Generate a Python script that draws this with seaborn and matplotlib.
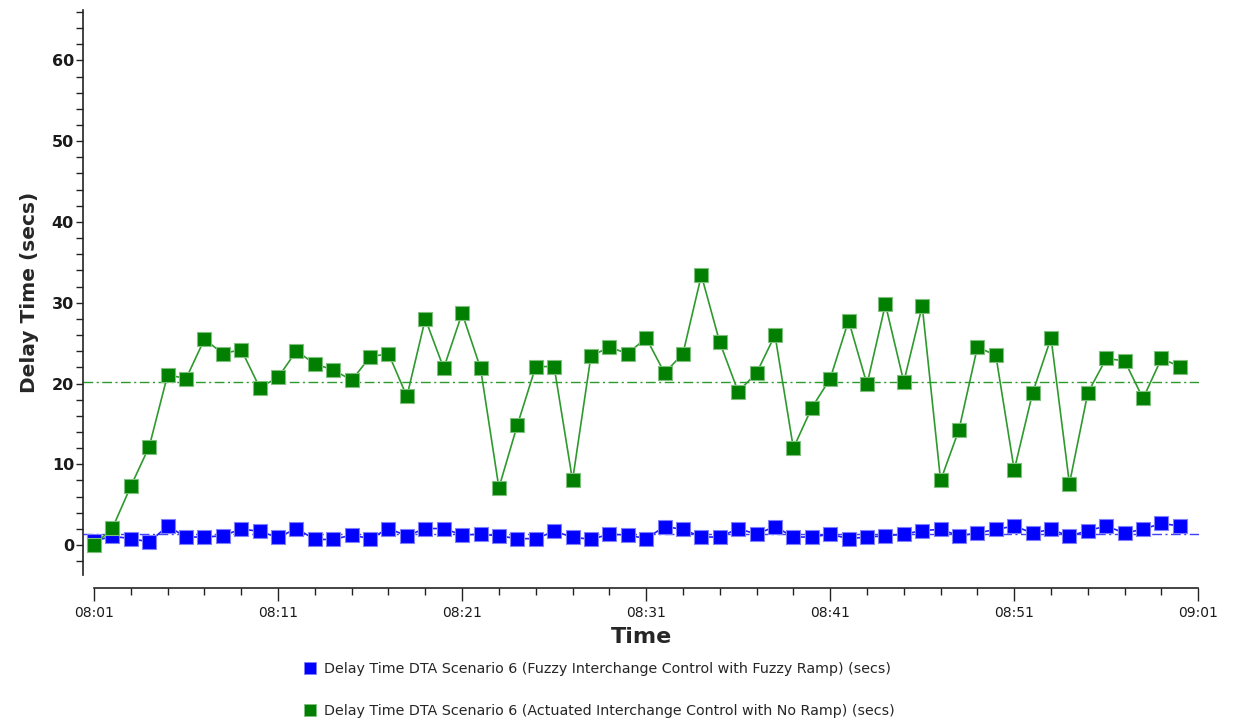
import pandas as pd
import matplotlib
matplotlib.use("Agg")
import matplotlib.pyplot as plt
import matplotlib.dates as mdates
from matplotlib.lines import Line2D
from matplotlib.ticker import MultipleLocator
import seaborn as sns

# Delay time per minute, 08:01 .. 09:00 (secs)
fuzzy_ramp = [0.5, 1.1, 0.8, 0.4, 2.35, 1.0, 1.0, 1.15, 2.0, 1.7,
              0.95, 2.05, 0.7, 0.7, 1.25, 0.8, 2.05, 1.15, 2.05, 2.05,
              1.25, 1.35, 1.15, 0.8, 0.8, 1.7, 1.0, 0.7, 1.35, 1.25,
              0.8, 2.3, 1.95, 1.0, 1.0, 2.05, 1.35, 2.3, 1.0, 1.0,
              1.35, 0.8, 1.0, 1.15, 1.35, 1.8, 1.95, 1.15, 1.5, 1.95,
              2.35, 1.5, 1.95, 1.1, 1.8, 2.35, 1.5, 1.95, 2.7, 2.35]
no_ramp = [0.0, 2.1, 7.3, 12.2, 21.1, 20.6, 25.5, 23.7, 24.2, 19.5,
           20.75, 24.05, 22.4, 21.7, 20.4, 23.3, 23.7, 18.4, 28.0, 21.9,
           28.7, 21.9, 7.1, 14.85, 22.1, 22.1, 8.0, 23.4, 24.5, 23.7,
           25.65, 21.3, 23.7, 33.4, 25.1, 19.0, 21.3, 26.0, 12.0, 17.0,
           20.6, 27.8, 19.9, 29.8, 20.2, 29.6, 8.0, 14.3, 24.5, 23.5,
           9.3, 18.85, 25.65, 7.6, 18.85, 23.1, 22.8, 18.15, 23.1, 22.1]
series_names = [
    "Delay Time DTA Scenario 6 (Fuzzy Interchange Control with Fuzzy Ramp) (secs)",
    "Delay Time DTA Scenario 6 (Actuated Interchange Control with No Ramp) (secs)",
]
tick_labels = ["08:01", "08:11", "08:21", "08:31", "08:41", "08:51", "09:01"]
day = "2000-01-01 "

times = pd.date_range(day + "08:01", periods=len(no_ramp), freq="min")
df_fuzzy = pd.DataFrame({"Time": times, "Delay": fuzzy_ramp})
df_none = pd.DataFrame({"Time": times, "Delay": no_ramp})

sns.set_theme(style="white")
plt.rcParams["font.family"] = ["DejaVu Sans"]

fig = plt.figure(figsize=(12.35, 7.24), dpi=100)
ax = fig.add_axes([0.0672, 0.2058, 0.9038, 0.780])

styles = [
    dict(df=df_fuzzy, marker="#0000FF", edge="#8080FF", line="#1E1EFF", mean="#4040FF"),
    dict(df=df_none, marker="#007F00", edge="#7FC07F", line="#2E9A2E", mean="#2E9A2E"),
]

# average level of each series
for st in styles:
    ax.axhline(st["df"]["Delay"].mean(), color=st["mean"], lw=1.0,
               ls=(0, (7, 2.5, 1.5, 2.5)), zorder=1)

for st in styles:
    sns.lineplot(data=st["df"], x="Time", y="Delay", ax=ax, color=st["line"],
                 lw=1.2, marker="s", markersize=10, markerfacecolor=st["marker"],
                 markeredgecolor=st["edge"], markeredgewidth=0.8, zorder=3)

# axis ranges
t0 = mdates.date2num(pd.Timestamp(day + "08:01"))
t1 = mdates.date2num(pd.Timestamp(day + "09:01"))
one_min = 1.0 / 1440
ax.set_xlim(t0 - 0.6 * one_min, t1 + 0.05 * one_min)
ax.set_ylim(-3.7, 66.2)

# x axis: detached bottom spine
tick_pos = [mdates.date2num(pd.Timestamp(day + t)) for t in tick_labels]
ax.set_xticks(tick_pos, tick_labels)
ax.xaxis.set_minor_locator(mdates.MinuteLocator(byminute=range(1, 60, 2)))
ax.spines["bottom"].set_position(("outward", 9.5))
ax.spines["bottom"].set_bounds(t0, t1)
for side in ("top", "right"):
    ax.spines[side].set_visible(False)
for side in ("left", "bottom"):
    ax.spines[side].set_color("#222222")
    ax.spines[side].set_linewidth(1.2)

ax.yaxis.set_major_locator(MultipleLocator(10))
ax.yaxis.set_minor_locator(MultipleLocator(2))
ax.tick_params(axis="x", which="major", direction="out", length=9, width=1,
               color="#222222", labelsize=10, labelcolor="#1a1a1a", pad=4, bottom=True)
ax.tick_params(axis="x", which="minor", direction="out", length=5, width=1,
               color="#222222", bottom=True)
ax.tick_params(axis="y", which="both", direction="out", length=5, width=1,
               color="#222222", left=True, labelsize=11.5, labelcolor="#1a1a1a", pad=1.5)
for lab in ax.get_yticklabels():
    lab.set_fontweight("bold")

ax.set_xlabel("Time", fontsize=16, fontweight="bold", labelpad=5)
ax.set_ylabel("Delay Time (secs)", fontsize=14.5, fontweight="bold", labelpad=9)
ax.grid(False)

handles = [
    Line2D([], [], ls="none", marker="s", markersize=9, markerfacecolor="#0000FF",
           markeredgecolor="#8080FF", markeredgewidth=0.6),
    Line2D([], [], ls="none", marker="s", markersize=9, markerfacecolor="#007F00",
           markeredgecolor="#7FC07F", markeredgewidth=0.6),
]
fig.legend(handles, series_names, loc="upper left", bbox_to_anchor=(0.242, 0.094),
           frameon=False, fontsize=10.25, labelspacing=2.0, handlelength=0.8,
           handletextpad=0.55, borderaxespad=0)

fig.savefig("out.png", dpi=100)
